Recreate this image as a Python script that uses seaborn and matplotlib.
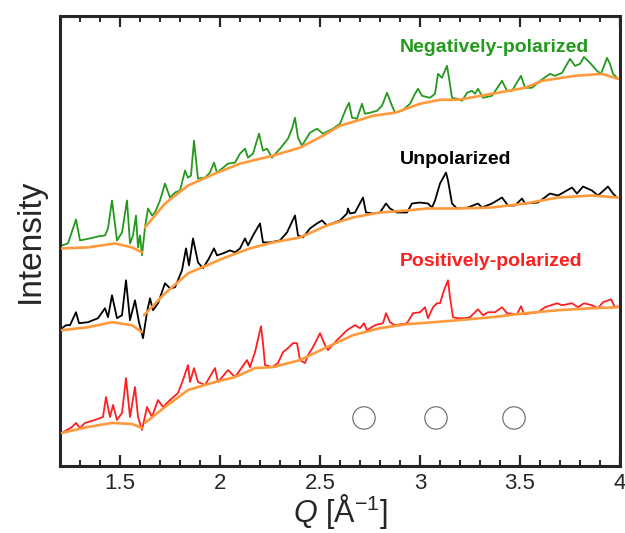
import numpy as np
import pandas as pd
import matplotlib
matplotlib.use("Agg")
import matplotlib.pyplot as plt
import seaborn as sns

# ---------------- data ----------------
neg_q = [1.21, 1.24, 1.28, 1.30, 1.35, 1.39, 1.425, 1.44, 1.46, 1.485, 1.51, 1.535, 1.55, 1.565, 1.58, 1.59, 1.60, 1.61,
         1.625, 1.64, 1.66, 1.675, 1.70, 1.725, 1.75, 1.775, 1.80, 1.825, 1.84, 1.855, 1.87, 1.89, 1.925, 1.95, 1.97, 1.985,
         2.01, 2.04, 2.075, 2.10, 2.125, 2.14, 2.165, 2.195, 2.215, 2.235, 2.26, 2.30, 2.34, 2.36, 2.375, 2.39, 2.41, 2.45,
         2.485, 2.515, 2.565, 2.60, 2.63, 2.645, 2.66, 2.685, 2.71, 2.725, 2.75, 2.785, 2.81, 2.835, 2.86, 2.875, 2.91, 2.95,
         2.975, 2.99, 3.01, 3.05, 3.075, 3.09, 3.11, 3.12, 3.135, 3.145, 3.16, 3.185, 3.21, 3.235, 3.26, 3.275, 3.29, 3.315,
         3.36, 3.41, 3.435, 3.46, 3.505, 3.525, 3.56, 3.60, 3.65, 3.675, 3.71, 3.75, 3.775, 3.80, 3.82, 3.85, 3.885, 3.905,
         3.935, 3.95, 3.965, 3.99]
neg_i = [220, 222, 246, 225, 227, 229, 230, 237, 265, 225, 233, 265, 222, 230, 250, 218, 230, 210,
         238, 257, 250, 253, 265, 282, 268, 273, 275, 295, 288, 290, 325, 287, 288, 293, 303, 293,
         297, 302, 303, 312, 317, 308, 312, 332, 315, 317, 308, 317, 327, 337, 348, 328, 320, 333,
         337, 332, 337, 342, 357, 363, 348, 347, 362, 352, 353, 355, 360, 373, 360, 353, 355, 362,
         372, 377, 370, 368, 372, 392, 388, 393, 400, 388, 368, 367, 365, 373, 375, 372, 377, 368,
         370, 385, 375, 375, 390, 378, 378, 385, 392, 390, 393, 407, 400, 402, 409, 403, 395, 392,
         408, 402, 392, 387]
neg_bq = [1.21, 1.34, 1.475, 1.56, 1.61, 1.625, 1.725, 1.84, 1.975, 2.10, 2.265, 2.40, 2.515, 2.60, 2.685, 2.765,
          2.875, 3.00, 3.10, 3.19, 3.36, 3.525, 3.61, 3.775, 3.91, 3.99]
neg_bi = [217, 218, 222, 218, 213, 238, 262, 280, 292, 302, 310, 318, 330, 340, 345, 350,
          353, 362, 366, 366, 372, 378, 385, 390, 392, 387]

unp_q = [1.21, 1.23, 1.25, 1.28, 1.295, 1.34, 1.39, 1.425, 1.44, 1.46, 1.485, 1.51, 1.53, 1.55, 1.575, 1.595, 1.615,
         1.635, 1.65, 1.665, 1.69, 1.725, 1.75, 1.775, 1.81, 1.83, 1.845, 1.865, 1.89, 1.915, 1.945, 1.97, 1.985, 2.015,
         2.05, 2.075, 2.10, 2.115, 2.125, 2.14, 2.165, 2.20, 2.215, 2.25, 2.30, 2.335, 2.375, 2.39, 2.415, 2.45, 2.485,
         2.51, 2.535, 2.60, 2.635, 2.64, 2.65, 2.675, 2.715, 2.73, 2.765, 2.80, 2.83, 2.85, 2.885, 2.935, 2.96, 3.00,
         3.04, 3.06, 3.075, 3.10, 3.13, 3.14, 3.16, 3.185, 3.24, 3.29, 3.31, 3.36, 3.41, 3.44, 3.475, 3.51, 3.525, 3.59,
         3.65, 3.69, 3.76, 3.785, 3.815, 3.86, 3.89, 3.94, 3.965, 3.985]
unp_i = [137, 140, 140, 153, 142, 143, 147, 157, 148, 170, 147, 150, 185, 145, 165, 143, 127,
         153, 167, 155, 162, 182, 177, 178, 195, 217, 200, 227, 203, 197, 207, 217, 210, 212,
         215, 213, 217, 223, 227, 220, 230, 242, 223, 223, 225, 233, 250, 230, 228, 237, 242,
         245, 240, 245, 252, 257, 252, 253, 268, 253, 252, 253, 262, 257, 253, 253, 262, 263,
         262, 258, 265, 282, 293, 285, 262, 257, 258, 262, 258, 262, 268, 260, 260, 267, 262, 263,
         272, 270, 278, 272, 279, 275, 270, 279, 272, 268]
unp_bq = [1.21, 1.34, 1.46, 1.56, 1.61, 1.62, 1.725, 1.84, 1.90, 2.015, 2.15, 2.265, 2.40, 2.535, 2.665, 2.80,
          2.935, 3.035, 3.19, 3.36, 3.525, 3.69, 3.86, 3.99]
unp_bi = [135, 138, 143, 140, 133, 150, 172, 192, 197, 207, 217, 223, 228, 240, 248, 253,
          255, 257, 257, 258, 262, 268, 270, 268]

pos_q = [1.21, 1.235, 1.26, 1.28, 1.30, 1.325, 1.375, 1.415, 1.43, 1.45, 1.465, 1.485, 1.51, 1.53, 1.55, 1.575, 1.59,
         1.61, 1.635, 1.66, 1.69, 1.715, 1.75, 1.79, 1.815, 1.84, 1.85, 1.87, 1.89, 1.925, 1.975, 1.99, 2.04, 2.075,
         2.10, 2.135, 2.15, 2.175, 2.205, 2.215, 2.225, 2.26, 2.29, 2.315, 2.34, 2.365, 2.385, 2.40, 2.425, 2.44, 2.465,
         2.50, 2.525, 2.54, 2.585, 2.635, 2.675, 2.70, 2.72, 2.735, 2.775, 2.815, 2.83, 2.85, 2.875, 2.935, 2.965, 3.00,
         3.025, 3.04, 3.065, 3.085, 3.10, 3.12, 3.14, 3.15, 3.165, 3.19, 3.225, 3.25, 3.29, 3.315, 3.34, 3.375, 3.41,
         3.435, 3.485, 3.505, 3.52, 3.59, 3.625, 3.685, 3.71, 3.76, 3.79, 3.82, 3.86, 3.89, 3.915, 3.955, 3.975, 3.99]
pos_i = [32, 35, 38, 42, 37, 42, 45, 48, 68, 48, 60, 45, 52, 87, 48, 78, 48,
         35, 58, 48, 65, 58, 65, 72, 85, 100, 83, 97, 83, 80, 97, 83, 95, 88,
         95, 105, 98, 113, 139, 122, 100, 98, 102, 113, 117, 122, 122, 105, 102, 110, 118,
         132, 120, 115, 125, 135, 140, 137, 142, 135, 140, 142, 152, 143, 140, 142, 152, 153,
         158, 147, 158, 162, 162, 175, 185, 168, 148, 147, 147, 148, 156, 150, 153, 153, 158,
         152, 151, 159, 151, 153, 158, 162, 160, 162, 158, 162, 160, 157, 163, 166, 158, 159]
pos_bq = [1.21, 1.34, 1.46, 1.56, 1.61, 1.625, 1.725, 1.84, 1.975, 2.075, 2.175, 2.265, 2.40, 2.535, 2.665, 2.80,
          2.935, 3.065, 3.19, 3.36, 3.525, 3.69, 3.86, 3.99]
pos_bi = [32, 38, 42, 41, 37, 42, 58, 75, 83, 88, 97, 98, 105, 118, 130, 137,
          141, 143, 145, 148, 152, 155, 157, 158]

marker_q = [2.72, 3.08, 3.47]
marker_i = [47, 47, 47]

series_names = ["Negatively-polarized", "Unpolarized", "Positively-polarized"]
series_colors = ["#229a1c", "#000000", "#ff1f1f"]
baseline_color = "#ff9a3c"
label_y = [418, 306, 204]
label_q = 2.9
xticks = [1.5, 2, 2.5, 3, 3.5, 4]
xtick_labels = ["1.5", "2", "2.5", "3", "3.5", "4"]

# ---------------- plotting ----------------
sns.set_style("ticks")
plt.rcParams["font.family"] = ["Liberation Sans", "DejaVu Sans"]
plt.rcParams["mathtext.fontset"] = "custom"
plt.rcParams["mathtext.it"] = "Liberation Sans:italic"
plt.rcParams["mathtext.rm"] = "Liberation Sans"

fig = plt.figure(figsize=(6.25, 5.33), dpi=100)
ax = fig.add_axes([0.096, 0.126, 0.896, 0.844])

data_sets = [(neg_q, neg_i, neg_bq, neg_bi), (unp_q, unp_i, unp_bq, unp_bi), (pos_q, pos_i, pos_bq, pos_bi)]
for (q, i, bq, bi), color in zip(data_sets, series_colors):
    df = pd.DataFrame({"Q": q, "I": i})
    sns.lineplot(data=df, x="Q", y="I", estimator=None, sort=False,
                 color=color, linewidth=1.3, ax=ax, zorder=2)
    bdf = pd.DataFrame({"Q": bq, "I": bi})
    bdf["seg"] = np.where(bdf["Q"] <= 1.612, 0, 1)
    sns.lineplot(data=bdf, x="Q", y="I", units="seg", estimator=None, sort=False,
                 color=baseline_color, linewidth=1.9, ax=ax, zorder=3)

sns.scatterplot(x=marker_q, y=marker_i, marker="o", s=260, facecolor="none",
                edgecolor="#666666", linewidth=0.8, ax=ax, zorder=4)

for name, color, ly in zip(series_names, series_colors, label_y):
    ax.text(label_q, ly, name, color=color, fontsize=14, fontweight="bold",
            ha="left", va="center")

ax.set_xlim(1.2, 4.0)
ax.set_ylim(-1, 450)
ax.set_xticks(xticks)
ax.set_xticklabels(xtick_labels)
ax.set_xticks(np.arange(1.3, 4.0, 0.1), minor=True)
ax.set_yticks([])
ax.tick_params(axis="x", which="major", direction="in", length=8, width=1.6,
               top=True, bottom=True, labelsize=16, pad=5)
ax.tick_params(axis="x", which="minor", direction="in", length=4, width=1.4,
               top=True, bottom=True)
for sp in ax.spines.values():
    sp.set_linewidth(2.2)
    sp.set_visible(True)

ax.set_xlabel(r"$Q$ [Å$^{\mathrm{-1}}$]", fontsize=22, labelpad=-1)
ax.set_ylabel("Intensity", fontsize=24, labelpad=10)

fig.savefig("out.png", dpi=100)
